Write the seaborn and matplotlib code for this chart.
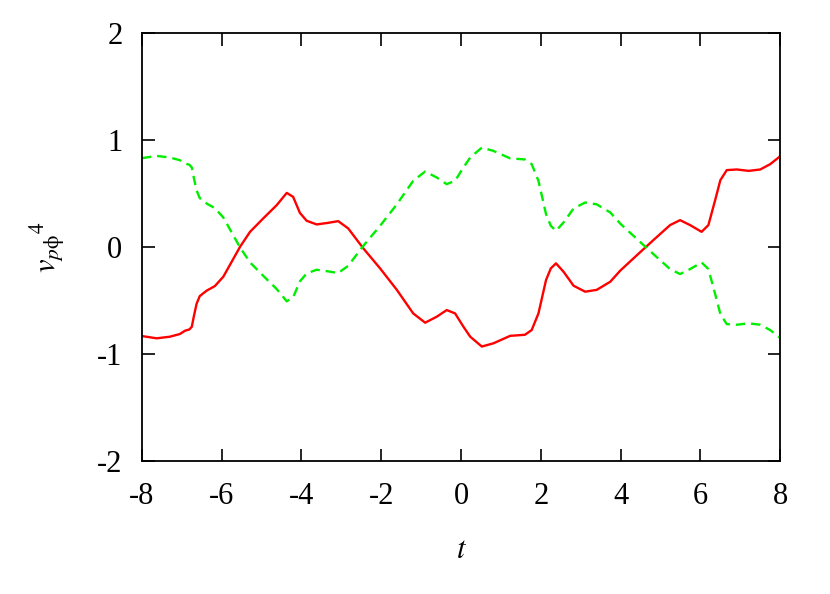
import numpy as np
import pandas as pd
import matplotlib
matplotlib.use("Agg")
import matplotlib.pyplot as plt
import seaborn as sns

# values
t_vals = [-8.0, -7.63, -7.30, -7.05, -6.92, -6.81, -6.75, -6.70, -6.63, -6.55,
          -6.38, -6.17, -5.96, -5.75, -5.54, -5.29, -4.96, -4.62, -4.37, -4.21,
          -4.04, -3.87, -3.62, -3.33, -3.08, -2.83, -2.45, -2.03, -1.61, -1.20,
          -0.90, -0.61, -0.36, -0.15, 0.06, 0.23, 0.52, 0.81, 1.23, 1.60,
          1.77, 1.94, 2.13, 2.25, 2.38, 2.57, 2.82, 3.11, 3.40, 3.74,
          3.99, 4.41, 4.82, 5.24, 5.49, 5.74, 6.03, 6.20, 6.37, 6.50,
          6.66, 6.91, 7.21, 7.50, 7.75, 8.0]
red_vals = [-0.832, -0.853, -0.838, -0.813, -0.782, -0.77, -0.745, -0.65, -0.53, -0.458,
            -0.408, -0.364, -0.277, -0.137, 0.003, 0.143, 0.268, 0.393, 0.507, 0.47,
            0.32, 0.246, 0.212, 0.227, 0.243, 0.175, -0.012, -0.199, -0.40, -0.62,
            -0.707, -0.651, -0.589, -0.62, -0.745, -0.838, -0.93, -0.90, -0.83, -0.82,
            -0.776, -0.62, -0.308, -0.199, -0.152, -0.231, -0.361, -0.417, -0.40, -0.324,
            -0.22, -0.075, 0.065, 0.206, 0.252, 0.206, 0.143, 0.206, 0.44, 0.626,
            0.72, 0.726, 0.713, 0.726, 0.776, 0.85]
green_vals = [0.832, 0.853, 0.838, 0.813, 0.782, 0.77, 0.745, 0.65, 0.53, 0.458,
              0.408, 0.364, 0.277, 0.137, -0.003, -0.143, -0.268, -0.393, -0.507, -0.47,
              -0.32, -0.246, -0.212, -0.227, -0.243, -0.175, 0.012, 0.199, 0.40, 0.62,
              0.707, 0.651, 0.589, 0.62, 0.745, 0.838, 0.93, 0.90, 0.83, 0.82,
              0.776, 0.62, 0.308, 0.199, 0.152, 0.231, 0.361, 0.417, 0.40, 0.324,
              0.22, 0.075, -0.065, -0.206, -0.252, -0.206, -0.143, -0.206, -0.44, -0.626,
              -0.72, -0.726, -0.713, -0.726, -0.776, -0.85]

x_ticks = [-8, -6, -4, -2, 0, 2, 4, 6, 8]
y_ticks = [-2, -1, 0, 1, 2]

sns.set_style("white")
plt.rcParams['font.family'] = ['Liberation Serif', 'DejaVu Serif']
plt.rcParams['mathtext.fontset'] = 'stix'
plt.rcParams['text.color'] = 'black'
plt.rcParams['axes.labelcolor'] = 'black'
plt.rcParams['xtick.color'] = 'black'
plt.rcParams['ytick.color'] = 'black'

df = pd.DataFrame({'t': t_vals, 'red': red_vals, 'green': green_vals})

fig = plt.figure(figsize=(8.3, 5.94), dpi=100)
ax = fig.add_axes([0.171, 0.224, 0.769, 0.720])

sns.lineplot(data=df, x='t', y='red', ax=ax, color='#ff0000', linewidth=1.7)
sns.lineplot(data=df, x='t', y='green', ax=ax, color='#00ee00', linewidth=1.7,
             linestyle=(0, (4, 2.5)))

ax.set_xlim(-8, 8)
ax.set_ylim(-2, 2)
ax.set_xticks(x_ticks)
ax.set_yticks(y_ticks)
ax.set_xticklabels([str(v) for v in x_ticks])
ax.set_yticklabels([str(v) for v in y_ticks])
ax.tick_params(direction='in', length=9, width=1.2, labelsize=22,
               top=True, right=True, bottom=True, left=True)
ax.tick_params(axis='x', pad=15)
ax.tick_params(axis='y', pad=14)
for s in ax.spines.values():
    s.set_linewidth(1.3)
    s.set_color('black')

ax.set_xlabel('$t$', fontsize=22, labelpad=18)
ax.set_ylabel(r'$v_{p\mathrm{\phi}}{}^{4}$', fontsize=22, labelpad=22)

fig.savefig('out.png', dpi=100)
